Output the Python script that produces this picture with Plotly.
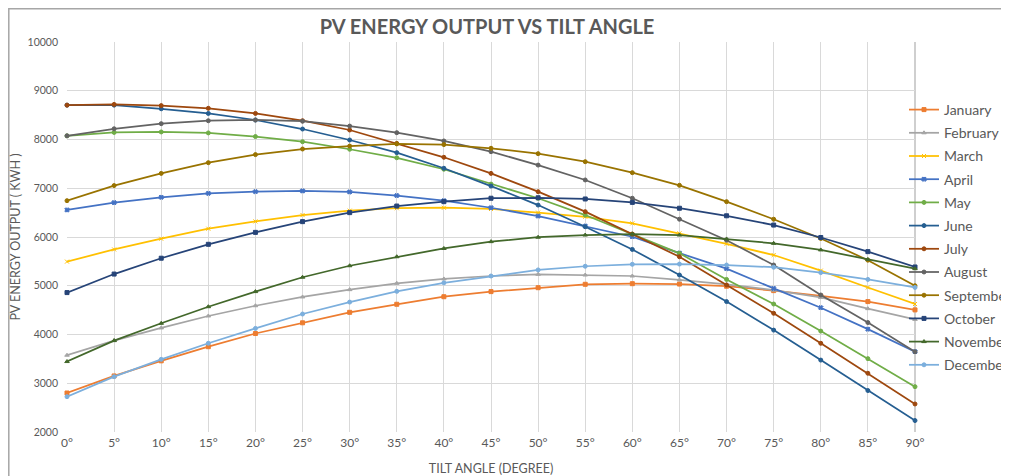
import plotly.graph_objects as go

angles = [0, 5, 10, 15, 20, 25, 30, 35, 40, 45, 50, 55, 60, 65, 70, 75, 80, 85, 90]
angle_labels = [f"{a}°" for a in angles]
y_ticks = [2000, 3000, 4000, 5000, 6000, 7000, 8000, 9000, 10000]
y_tick_labels = [str(v) for v in y_ticks]

months = ["January", "February", "March", "April", "May", "June", "July",
          "August", "September", "October", "November", "December"]

january = [2800, 3150, 3460, 3750, 4020, 4240, 4455, 4620, 4775, 4880, 4960, 5030, 5042, 5035, 4990, 4900, 4790, 4675, 4505]
february = [3575, 3875, 4135, 4380, 4590, 4770, 4920, 5050, 5140, 5200, 5235, 5220, 5200, 5120, 5030, 4910, 4760, 4530, 4310]
march = [5495, 5745, 5965, 6170, 6320, 6450, 6540, 6590, 6600, 6575, 6500, 6415, 6280, 6075, 5860, 5630, 5310, 4965, 4625]
april = [6555, 6705, 6815, 6895, 6930, 6945, 6925, 6850, 6745, 6600, 6430, 6225, 6005, 5670, 5350, 4945, 4550, 4110, 3647]
may = [8075, 8145, 8155, 8135, 8060, 7955, 7800, 7625, 7390, 7085, 6795, 6450, 6060, 5665, 5130, 4625, 4070, 3505, 2930]
june = [8705, 8705, 8630, 8535, 8400, 8215, 7990, 7730, 7410, 7045, 6655, 6210, 5745, 5220, 4675, 4090, 3475, 2850, 2235]
july = [8705, 8720, 8695, 8640, 8535, 8385, 8195, 7920, 7635, 7305, 6930, 6520, 6060, 5595, 5015, 4435, 3820, 3205, 2575]
august = [8075, 8220, 8325, 8385, 8400, 8375, 8275, 8140, 7970, 7750, 7475, 7170, 6795, 6365, 5935, 5425, 4810, 4245, 3647]
september = [6745, 7055, 7305, 7525, 7690, 7805, 7865, 7910, 7895, 7820, 7710, 7545, 7320, 7060, 6725, 6365, 5970, 5525, 5000]
october = [4860, 5240, 5565, 5850, 6095, 6315, 6500, 6635, 6725, 6795, 6805, 6780, 6710, 6590, 6435, 6245, 5990, 5700, 5385]
november = [3445, 3875, 4230, 4570, 4880, 5175, 5410, 5595, 5765, 5905, 5995, 6040, 6060, 6040, 5960, 5870, 5735, 5540, 5350]
december = [2725, 3135, 3490, 3820, 4125, 4420, 4665, 4885, 5060, 5200, 5325, 5400, 5440, 5445, 5425, 5380, 5270, 5130, 4965]

series = [january, february, march, april, may, june, july,
          august, september, october, november, december]

colors = ["#ED7D31", "#A5A5A5", "#FFC000", "#4472C4", "#70AD47", "#255E91",
          "#9E480E", "#636363", "#997300", "#264478", "#43682B", "#7CAFDD"]
symbols = ["square", "triangle-up", "x-thin", "x", "circle", "circle",
           "circle", "circle", "circle", "square", "triangle-up", "circle"]

font_family = "Lato, 'Open Sans', sans-serif"
text_color = "#595959"
grid_color = "#D9D9D9"

fig = go.Figure()
for name, vals, col, sym in zip(months, series, colors, symbols):
    fig.add_trace(go.Scatter(
        x=angles, y=vals, name=name, mode="lines+markers",
        legendgroup=name,
        line=dict(color=col, width=1.75),
        marker=dict(color=col, size=4, symbol=sym, line=dict(color=col, width=1)),
        cliponaxis=False,
    ))

# the page body adds an 8px offset; work in page pixels and convert
OFF = 8
W, H = 1009 - OFF, 476 - OFF
L, R, T, B = 67 - OFF, 915 - OFF, 42 - OFF, 432 - OFF

def px_x(p):
    return (p - OFF - L) / (R - L)

def px_y(p):
    return (B - (p - OFF)) / (B - T)

fig.update_layout(
    width=W, height=H,
    margin=dict(l=L, r=W - R, t=T, b=H - B, autoexpand=False),
    paper_bgcolor="white", plot_bgcolor="white",
    font=dict(family=font_family, color=text_color),
    title=dict(text="<b>PV ENERGY OUTPUT VS TILT ANGLE</b>",
               x=px_x(487), xref="paper", xanchor="center",
               y=1 - (27 - OFF) / H, yref="container", yanchor="middle",
               font=dict(size=20, color=text_color, family=font_family)),
    xaxis=dict(range=[0, 90], tickvals=angles, ticktext=angle_labels,
               showgrid=True, gridcolor=grid_color, gridwidth=1,
               zeroline=False, showline=False, ticks="",
               tickfont=dict(size=12, color=text_color),
               ticklabelstandoff=2,
               title=dict(text="TILT ANGLE (DEGREE)", standoff=15,
                          font=dict(size=12.5, color=text_color))),
    yaxis=dict(range=[2000, 10000], tickvals=y_ticks, ticktext=y_tick_labels,
               showgrid=True, gridcolor=grid_color, gridwidth=1,
               zeroline=False, showline=False, ticks="",
               tickfont=dict(size=10.5, color=text_color),
               ticklabelstandoff=8,
               title=dict(text="PV ENERGY OUTPUT ( KWH )", standoff=9,
                          font=dict(size=12.5, color=text_color))),
    legend=dict(x=px_x(904), xanchor="left", y=px_y(94), yanchor="top",
                font=dict(size=14, color=text_color, family=font_family),
                tracegroupgap=2, bgcolor="rgba(0,0,0,0)",
                itemwidth=30),
    shapes=[
        dict(type="rect", xref="paper", yref="paper",
             x0=px_x(8.8), x1=px_x(1015), y0=px_y(482), y1=px_y(8.8),
             line=dict(color="#A6A6A6", width=1.5), fillcolor="rgba(0,0,0,0)",
             layer="below"),
        dict(type="line", xref="paper", yref="paper",
             x0=1, x1=1, y0=0, y1=1,
             line=dict(color="#BFBFBF", width=1.5), layer="below"),
    ],
)

fig.write_html("out.html")
